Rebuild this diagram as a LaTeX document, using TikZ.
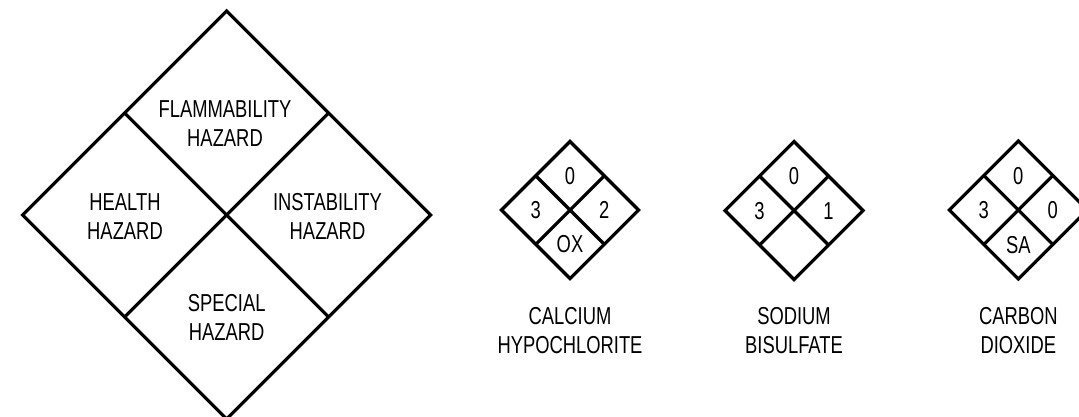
\documentclass[tikz,border=0pt]{standalone}
\usepackage{fontspec}
\usetikzlibrary{calc}
\newfontfamily\labfont[FakeStretch=0.75]{Liberation Sans}
\begin{document}
\begin{tikzpicture}[x=1pt,y=-1pt,
  edge/.style={line width=3.2pt,line join=miter,line cap=butt},
  lab/.style={font=\labfont\fontsize{24.5}{29}\selectfont,align=center,inner sep=0pt,anchor=base}]
\useasboundingbox (0,0) rectangle (1079,416);
\clip (0,0) rectangle (1079,416);
% big diamond
\coordinate (B) at (226.7,215);
\coordinate (Bt) at (226.7,11);
\coordinate (Bl) at (22.7,215);
\coordinate (Br) at (430.7,215);
\coordinate (Bb) at (226.7,419);
\draw[edge] (Bt) -- (Br) -- (Bb) -- (Bl) -- cycle;
\draw[edge] ($(Bt)!0.5!(Bl)$) -- ($(Br)!0.5!(Bb)$);
\draw[edge] ($(Bt)!0.5!(Br)$) -- ($(Bl)!0.5!(Bb)$);
% anchor=base of a multi-line node is the baseline of its last line
\node[lab] (flam) at (225,146) {FLAMMABILITY\\HAZARD};
\node[lab] (health) at (125,239) {HEALTH\\HAZARD};
\node[lab] (inst) at (327.5,239) {INSTABILITY\\HAZARD};
\node[lab] (spec) at (226.7,340.5) {SPECIAL\\HAZARD};
% small diamonds
\foreach \n/\cx/\cy/\h/\vT/\vL/\vR/\vB/\capA/\capB in {
  one/570/210/68.5/0/3/2/OX/CALCIUM/HYPOCHLORITE,
  two/794/210.5/69/0/3/1//SODIUM/BISULFATE,
  three/1018.3/210/69/0/3/0/SA/CARBON/DIOXIDE}{
  \coordinate (\n) at (\cx,\cy);
  \coordinate (\n t) at (\cx,\cy-\h);
  \coordinate (\n l) at (\cx-\h,\cy);
  \coordinate (\n r) at (\cx+\h,\cy);
  \coordinate (\n b) at (\cx,\cy+\h);
  \draw[edge] (\n t) -- (\n r) -- (\n b) -- (\n l) -- cycle;
  \draw[edge] ($(\n t)!0.5!(\n l)$) -- ($(\n r)!0.5!(\n b)$);
  \draw[edge] ($(\n t)!0.5!(\n r)$) -- ($(\n l)!0.5!(\n b)$);
  \node[lab] (\n T) at (\cx,\cy-\h/2+8.7) {\vT};
  \node[lab] (\n L) at (\cx-\h/2,\cy+8.7) {\vL};
  \node[lab] (\n R) at (\cx+\h/2,\cy+8.7) {\vR};
  \node[lab] (\n B) at (\cx,\cy+\h/2+8.7) {\vB};
  \node[lab] (\n C) at (\cx,353.5) {\capA\\\capB};
}
\end{tikzpicture}
\end{document}
